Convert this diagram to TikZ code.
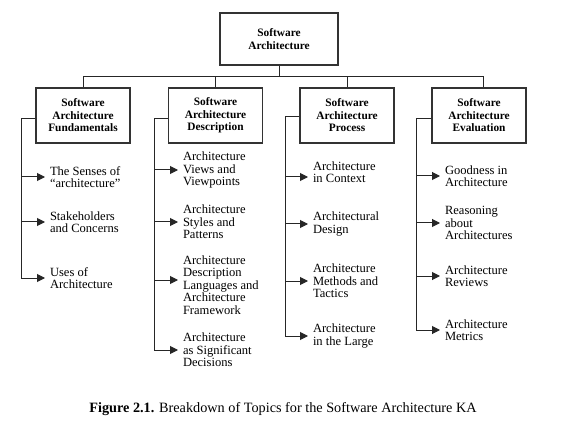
\documentclass[tikz,border=0pt]{standalone}
\usepackage{fontspec}
\setmainfont{Liberation Serif}
\usetikzlibrary{arrows.meta}
\begin{document}
\begin{tikzpicture}[x=1bp,y=-1bp,
  box/.style={draw=black!80, line width=1.3bp, minimum width=94bp, minimum height=55bp,
    inner sep=0pt, align=center, font=\fontsize{11.4}{12.6}\selectfont\bfseries},
  item/.style={anchor=west, inner sep=0pt, outer xsep=5bp, align=left,
    font=\fontsize{12.6}{12.6}\selectfont},
  conn/.style={line width=1bp, black!85},
  arr/.style={conn, -{Triangle[length=8bp,width=8bp]}}]
\useasboundingbox (0,0) rectangle (561,435);
% boxes
\node[box, minimum width=118bp, minimum height=52bp] (top) at (279,39) {Software\\Architecture};
\node[box] (b1) at (83,115.5) {Software\\Architecture\\Fundamentals};
\node[box] (b2) at (215.5,115.5) {Software\\Architecture\\Description};
\node[box] (b3) at (347,115.5) {Software\\Architecture\\Process};
\node[box] (b4) at (479,115.5) {Software\\Architecture\\Evaluation};
% bus
\coordinate (bus) at (0,77);
\draw[conn] (top.south) -- (top.south |- bus);
\draw[conn] (b1.north) |- ([xshift=4bp]b4.north |- bus) -- ([xshift=4bp]b4.north);
\draw[conn] (b2.north) -- (b2.north |- bus);
\draw[conn] (b3.north) -- (b3.north |- bus);
% items
\node[item] (t11) at (45,177) {The Senses of\\“architecture”};
\node[item] (t12) at (45,222) {Stakeholders\\and Concerns};
\node[item] (t13) at (45,278) {Uses of\\Architecture};
\node[item] (t21) at (178,170) {Architecture\\Views and\\Viewpoints};
\node[item] (t22) at (178,222) {Architecture\\Styles and\\Patterns};
\node[item] (t23) at (178,285) {Architecture\\Description\\Languages and\\Architecture\\Framework};
\node[item] (t24) at (178,350) {Architecture\\as Significant\\Decisions};
\node[item] (t31) at (308,172) {Architecture\\in Context};
\node[item] (t32) at (308,224) {Architectural\\Design};
\node[item] (t33) at (308,281) {Architecture\\Methods and\\Tactics};
\node[item] (t34) at (308,336) {Architecture\\in the Large};
\node[item] (t41) at (440,176) {Goodness in\\Architecture};
\node[item] (t42) at (440,223) {Reasoning\\about\\Architectures};
\node[item] (t43) at (440,276) {Architecture\\Reviews};
\node[item] (t44) at (440,330) {Architecture\\Metrics};
\coordinate (a23) at ([yshift=5bp]t23.west);
\coordinate (a31) at ([yshift=-5bp]t31.west);
% spines
\coordinate (s1) at (21,119);
\coordinate (s2) at (154,119);
\coordinate (s3) at (285,117);
\coordinate (s4) at (416,119);
\draw[conn] (b1.west |- s1) -- (s1) -- (s1 |- t13.west);
\draw[conn] (b2.west |- s2) -- (s2) -- (s2 |- t24.west);
\draw[conn] (b3.west |- s3) -- (s3) -- (s3 |- t34.west);
\draw[conn] (b4.west |- s4) -- (s4) -- (s4 |- t44.west);
% arrows
\foreach \t in {t11,t12,t13}{\draw[arr] (s1 |- \t.west) -- (\t.west);}
\foreach \t in {t21,t22,t24}{\draw[arr] (s2 |- \t.west) -- (\t.west);}
\draw[arr] (s2 |- a23) -- (a23);
\draw[arr] (s3 |- a31) -- (a31);
\foreach \t in {t32,t33,t34}{\draw[arr] (s3 |- \t.west) -- (\t.west);}
\foreach \t in {t41,t42,t43,t44}{\draw[arr] (s4 |- \t.west) -- (\t.west);}
% caption
\node[font=\fontsize{14.3}{16}\selectfont, inner sep=0pt] (cap) at (283,409)
  {\textbf{Figure 2.1.} Breakdown of Topics for the Software Architecture KA};
\end{tikzpicture}
\end{document}
